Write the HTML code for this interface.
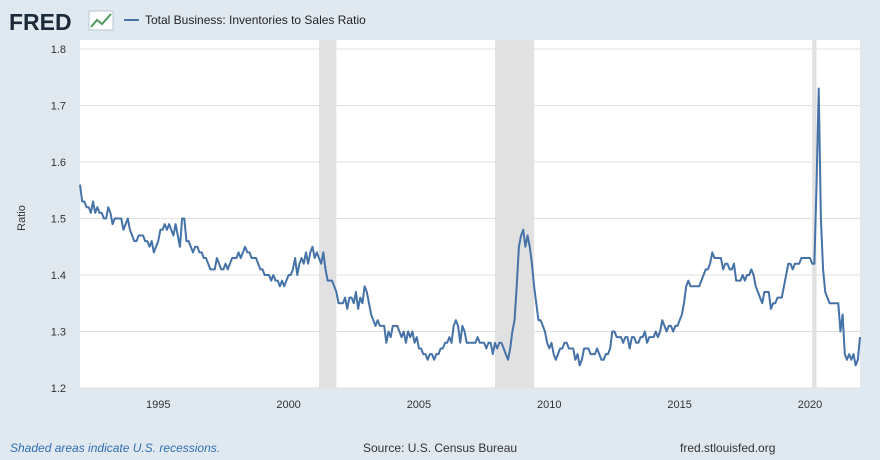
<!DOCTYPE html>
<html><head><meta charset="utf-8"><style>
body{margin:0;background:#e1e9f0;font-family:"Liberation Sans",sans-serif;}
svg{display:block}
</style></head><body>
<svg width="880" height="460" xmlns="http://www.w3.org/2000/svg">
<rect x="0" y="0" width="880" height="460" fill="#e1e9f0"/>
<g>
<text x="9" y="30" font-size="23" font-weight="bold" fill="#1b2a3a" font-family="Liberation Sans, sans-serif">FRED</text>
<rect x="89" y="11" width="24" height="19" fill="#fff" stroke="#b8c6d3"/>
<polyline points="91,27 97,20 102,24 111,14" fill="none" stroke="#4a9a5a" stroke-width="2"/>
</g>
<g>
<line x1="124" y1="20" x2="139" y2="20" stroke="#4572a7" stroke-width="2"/>
<text x="145" y="24" font-size="12" fill="#222">Total Business: Inventories to Sales Ratio</text>
</g>
<rect x="80" y="40" width="780" height="348" fill="#fff"/>
<g id="rec"></g>
<g id="grid"></g>
<path id="line" fill="none" stroke="#4572a7" stroke-width="2" stroke-linejoin="round"/>
<text transform="translate(25,218) rotate(-90)" text-anchor="middle" font-size="11" fill="#333">Ratio</text>
<text x="10" y="452" font-size="12" font-style="italic" fill="#2f6fb4">Shaded areas indicate U.S. recessions.</text>
<text x="363" y="452" font-size="12" fill="#333">Source: U.S. Census Bureau</text>
<text x="680" y="452" font-size="12" fill="#333">fred.stlouisfed.org</text>
</svg>
<script>
const startYear = 1992;
const values = [
1.56,1.53,1.53,1.52,1.52,1.51,1.53,1.51,1.52,1.51,1.51,1.50,
1.50,1.52,1.51,1.49,1.50,1.50,1.50,1.50,1.48,1.49,1.50,1.48,
1.47,1.46,1.46,1.47,1.47,1.47,1.46,1.46,1.45,1.46,1.44,1.45,
1.46,1.48,1.48,1.49,1.48,1.49,1.48,1.47,1.49,1.47,1.45,1.50,
1.50,1.46,1.46,1.45,1.44,1.45,1.45,1.44,1.44,1.43,1.43,1.42,
1.41,1.41,1.41,1.43,1.42,1.41,1.41,1.42,1.41,1.42,1.43,1.43,
1.43,1.44,1.43,1.44,1.45,1.44,1.44,1.43,1.43,1.43,1.42,1.41,
1.41,1.40,1.40,1.40,1.39,1.40,1.39,1.39,1.38,1.39,1.38,1.39,
1.40,1.40,1.41,1.43,1.40,1.42,1.43,1.42,1.44,1.42,1.44,1.45,
1.43,1.44,1.43,1.42,1.44,1.41,1.39,1.39,1.39,1.38,1.37,1.35,
1.35,1.35,1.36,1.34,1.36,1.36,1.35,1.37,1.34,1.36,1.35,1.38,
1.37,1.35,1.33,1.32,1.31,1.32,1.31,1.31,1.31,1.28,1.30,1.29,
1.31,1.31,1.31,1.30,1.29,1.30,1.28,1.30,1.29,1.30,1.28,1.29,
1.27,1.27,1.26,1.26,1.25,1.26,1.26,1.25,1.26,1.26,1.27,1.27,
1.28,1.28,1.29,1.28,1.31,1.32,1.31,1.28,1.31,1.30,1.28,1.28,
1.28,1.28,1.28,1.29,1.28,1.28,1.28,1.27,1.28,1.28,1.26,1.28,
1.27,1.28,1.28,1.27,1.26,1.25,1.27,1.30,1.32,1.38,1.45,1.47,
1.48,1.45,1.47,1.45,1.42,1.38,1.35,1.32,1.32,1.31,1.30,1.28,
1.27,1.28,1.26,1.25,1.26,1.27,1.27,1.28,1.28,1.27,1.27,1.27,
1.25,1.26,1.24,1.25,1.27,1.27,1.27,1.26,1.26,1.26,1.27,1.26,
1.25,1.25,1.26,1.26,1.27,1.30,1.30,1.29,1.29,1.29,1.28,1.29,
1.29,1.27,1.29,1.29,1.28,1.28,1.29,1.29,1.30,1.28,1.29,1.29,
1.29,1.30,1.29,1.30,1.32,1.31,1.30,1.31,1.31,1.30,1.31,1.31,
1.32,1.33,1.35,1.38,1.39,1.38,1.38,1.38,1.38,1.38,1.39,1.40,
1.41,1.41,1.42,1.44,1.43,1.43,1.43,1.43,1.41,1.42,1.42,1.41,
1.41,1.42,1.39,1.39,1.39,1.40,1.39,1.40,1.40,1.41,1.40,1.38,
1.37,1.36,1.35,1.37,1.37,1.37,1.34,1.35,1.35,1.36,1.36,1.36,
1.38,1.40,1.42,1.42,1.41,1.42,1.42,1.42,1.43,1.43,1.43,1.43,
1.43,1.42,1.42,1.56,1.73,1.50,1.41,1.37,1.36,1.35,1.35,1.35,
1.35,1.35,1.30,1.33,1.26,1.25,1.26,1.25,1.26,1.24,1.25,1.29];
const yTicks = [1.2,1.3,1.4,1.5,1.6,1.7,1.8];
const xTicks = [1995,2000,2005,2010,2015,2020];
const recessions = [[2001+2/12,2001+10/12],[2007+11/12,2009+5/12],[2020+1/12,2020+3/12]];

const X0=80,X1=860,Y0=388,Y1=49;
const tMin=startYear, tMax=startYear+(values.length-1)/12;
const xs=t=>X0+(t-tMin)/(tMax-tMin)*(X1-X0);
const ys=v=>Y0-(v-1.2)/(1.8-1.2)*(Y0-Y1);
const NS="http://www.w3.org/2000/svg";
const rec=document.getElementById('rec'), grid=document.getElementById('grid');
recessions.forEach(r=>{
  const e=document.createElementNS(NS,'rect');
  e.setAttribute('x',xs(r[0]));e.setAttribute('y',40);
  e.setAttribute('width',xs(r[1])-xs(r[0]));e.setAttribute('height',348);
  e.setAttribute('fill','#e1e1e1');
  
  
  rec.appendChild(e);
});
yTicks.forEach(v=>{
  const l=document.createElementNS(NS,'line');
  l.setAttribute('x1',X0);l.setAttribute('x2',X1);l.setAttribute('y1',ys(v));l.setAttribute('y2',ys(v));
  l.setAttribute('stroke','#e1e1e1');l.setAttribute('stroke-width','1');
  
  
  grid.appendChild(l);
  const t=document.createElementNS(NS,'text');
  t.setAttribute('x',66);t.setAttribute('y',ys(v)+4);t.setAttribute('text-anchor','end');
  t.setAttribute('font-size','11');t.setAttribute('fill','#333');
  t.textContent=v.toFixed(1);
  
  
  grid.appendChild(t);
});
xTicks.forEach(y=>{
  const t=document.createElementNS(NS,'text');
  t.setAttribute('x',xs(y));t.setAttribute('y',408);t.setAttribute('text-anchor','middle');
  t.setAttribute('font-size','11');t.setAttribute('fill','#333');
  t.textContent=y;
  
  
  grid.appendChild(t);
});
document.getElementById('line').setAttribute('d',values.map((v,i)=>(i?'L':'M')+xs(startYear+i/12).toFixed(2)+','+ys(v).toFixed(2)).join(''));
</script>
</body></html>
